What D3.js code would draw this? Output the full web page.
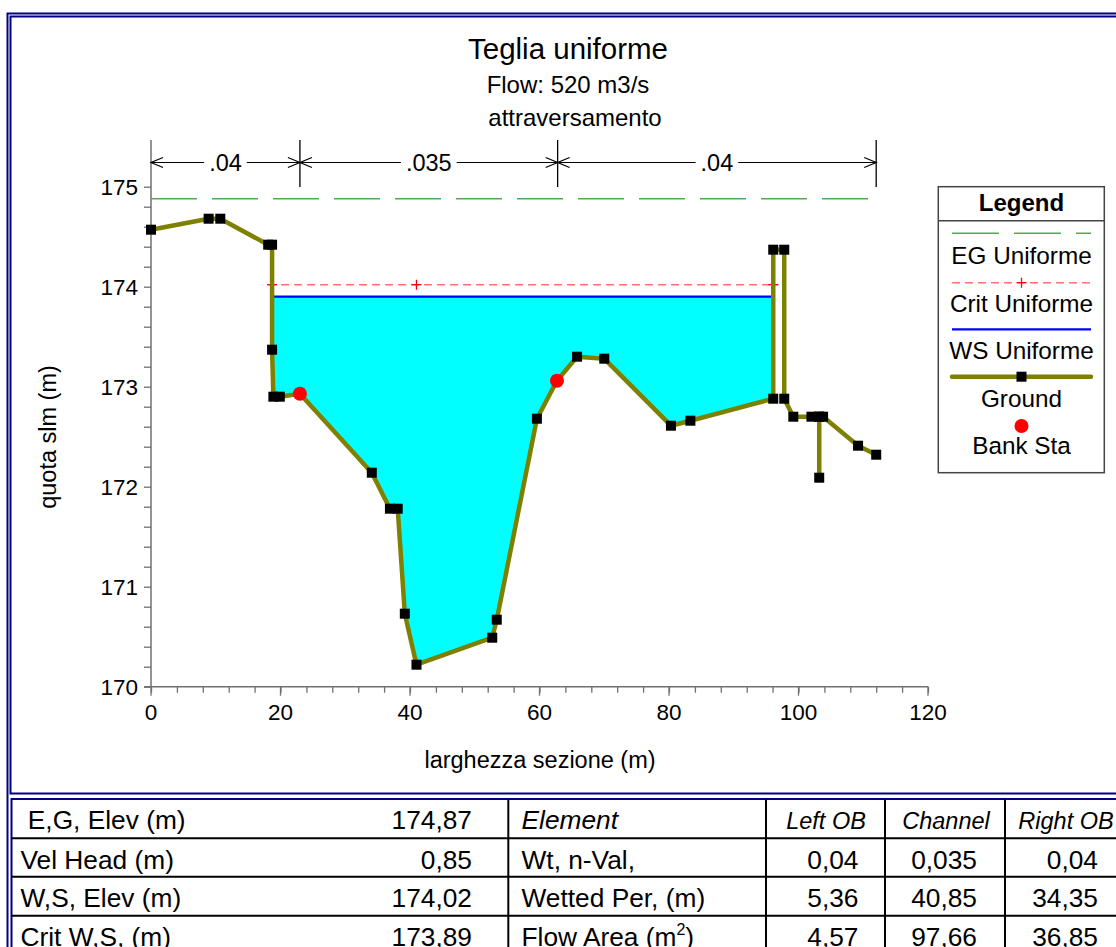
<!DOCTYPE html>
<html lang="it">
<head>
<meta charset="UTF-8">
<title>Teglia uniforme</title>
<script src="https://d3js.org/d3.v7.min.js"></script>
<style>
  body { margin: 0; background: #fff; }
  svg { display: block; font-family: "Liberation Sans", Arial, sans-serif; }
</style>
</head>
<body>
<div id="chart"></div>
<script>
// ground profile (station m, elevation m)
const groundX = [0, 8.9, 10.7, 18.1, 18.7, 18.7, 18.9, 19.9, 23.0, 34.1, 36.9, 38.1, 39.2, 41.0, 52.7, 53.4,
  59.6, 62.7, 65.8, 70.0, 80.3, 83.3, 96.1, 96.1, 97.8, 97.8, 99.2, 102.0, 103.2, 103.2, 103.2, 103.8, 109.2, 112.0];
const groundY = [174.57, 174.68, 174.68, 174.42, 174.42, 173.37, 172.90, 172.90, 172.93, 172.14, 171.78, 171.78,
  170.73, 170.22, 170.49, 170.67, 172.68, 173.06, 173.30, 173.28, 172.61, 172.66, 172.88, 174.37, 174.37, 172.88,
  172.70, 172.70, 172.70, 172.09, 172.70, 172.70, 172.41, 172.32];
const bankX = [23.0, 62.7];
const bankY = [172.93, 173.06];

const egElev = 174.88;
const critElev = 174.02;
const wsElev = 173.90;
const critMarkX = [18.7, 41.0, 96.1];

const nBreaks = [0, 23.0, 62.8, 112.0];
const nLabels = [".04", ".035", ".04"];

const xTicks = [0, 20, 40, 60, 80, 100, 120];
const yTicks = [170, 171, 172, 173, 174, 175];

const legendNames = ["EG Uniforme", "Crit Uniforme", "WS Uniforme", "Ground", "Bank Sta"];

// table
const leftLabels = [" E,G, Elev (m)", "Vel Head (m)", "W,S, Elev (m)", "Crit W,S, (m)"];
const leftValues = ["174,87", "0,85", "174,02", "173,89"];
const elemLabels = ["Element", "Wt, n-Val,", "Wetted Per, (m)", "Flow Area (m"];
const colHeads = ["Left OB", "Channel", "Right OB"];
const leftOB = ["0,04", "5,36", "4,57"];
const channel = ["0,035", "40,85", "97,66"];
const rightOB = ["0,04", "34,35", "36,85"];

const W = 1116, H = 947;
const svg = d3.select("#chart").append("svg").attr("width", W).attr("height", H);
svg.append("rect").attr("width", W).attr("height", H).attr("fill", "#fff");

const x = d3.scaleLinear().domain([0, 120]).range([151, 928]);
const y = d3.scaleLinear().domain([170, 175]).range([686.7, 186.7]);

const ground = groundX.map((gx, i) => [gx, groundY[i]]);

// frames
const navy = "#000080";
svg.append("path").attr("d", `M7.5,${H + 5}V13.5H${W + 5}`).attr("fill", "none").attr("stroke", navy).attr("stroke-width", 2);
svg.append("path").attr("d", `M${W + 5},16.5H10.5V793.5H${W + 5}`).attr("fill", "none").attr("stroke", navy).attr("stroke-width", 2);
svg.append("path").attr("d", `M${W + 5},799H11.5V${H + 5}`).attr("fill", "none").attr("stroke", navy).attr("stroke-width", 2);

// titles
svg.append("text").attr("x", 568).attr("y", 59).attr("text-anchor", "middle").attr("font-size", 29.5).text("Teglia uniforme");
svg.append("text").attr("x", 568).attr("y", 93).attr("text-anchor", "middle").attr("font-size", 24).text("Flow: 520 m3/s");
svg.append("text").attr("x", 575).attr("y", 126).attr("text-anchor", "middle").attr("font-size", 24).text("attraversamento");

// water fill: where ground drops below WS
function crossX(a, b, lvl) {
  return a[0] + (b[0] - a[0]) * (lvl - a[1]) / (b[1] - a[1]);
}
let poly = [];
for (let i = 1; i < ground.length; i++) {
  const a = ground[i - 1], b = ground[i];
  if (a[1] >= wsElev && b[1] < wsElev && poly.length === 0) {
    poly.push([crossX(a, b, wsElev), wsElev]);
    poly.push(b);
  } else if (poly.length > 0 && b[1] < wsElev) {
    poly.push(b);
  } else if (poly.length > 0 && b[1] >= wsElev) {
    poly.push([crossX(a, b, wsElev), wsElev]);
    break;
  }
}
const wsLeft = poly[0][0], wsRight = poly[poly.length - 1][0];
svg.append("path")
  .attr("d", d3.line().x(d => x(d[0])).y(d => y(d[1]))(poly) + "Z")
  .attr("fill", "#00ffff");

// axes
const gray = "#707070";
const yAxis = svg.append("g").attr("transform", `translate(${x(0)},0)`)
  .call(d3.axisLeft(y).tickValues(d3.range(170, 175.01, 0.2)).tickSize(7).tickFormat(""));
yAxis.select(".domain").remove();
yAxis.selectAll("line").attr("stroke", gray).attr("stroke-width", 1.3);
svg.append("line").attr("x1", x(0)).attr("x2", x(0)).attr("y1", 140).attr("y2", y(170))
  .attr("stroke", gray).attr("stroke-width", 1.5);
svg.selectAll(".ylab").data(yTicks).enter().append("text")
  .attr("x", 138).attr("y", d => y(d) + 8).attr("text-anchor", "end").attr("font-size", 22.5).text(d => d);

const xAxis = svg.append("g").attr("transform", `translate(0,${y(170)})`)
  .call(d3.axisBottom(x).tickValues(d3.range(0, 120.1, 4)).tickSize(6).tickFormat(""));
xAxis.select(".domain").remove();
xAxis.selectAll("line").attr("stroke", gray).attr("stroke-width", 1.3);
svg.selectAll(".xmaj").data(xTicks).enter().append("line")
  .attr("x1", d => x(d)).attr("x2", d => x(d)).attr("y1", y(170)).attr("y2", y(170) + 9)
  .attr("stroke", gray).attr("stroke-width", 1.3);
svg.append("line").attr("x1", x(0) - 7).attr("x2", x(120)).attr("y1", y(170)).attr("y2", y(170))
  .attr("stroke", gray).attr("stroke-width", 1.5);
svg.selectAll(".xlab").data(xTicks).enter().append("text")
  .attr("x", d => x(d)).attr("y", 720).attr("text-anchor", "middle").attr("font-size", 22.5).text(d => d);

svg.append("text").attr("x", 540).attr("y", 768).attr("text-anchor", "middle").attr("font-size", 23.5)
  .text("larghezza sezione (m)");
svg.append("text").attr("transform", "translate(56,437) rotate(-90)").attr("text-anchor", "middle")
  .attr("font-size", 23.5).text("quota slm (m)");

// n-value dimension bar
const nY = 162.5;
nBreaks.forEach((b, i) => {
  if (i > 0) svg.append("line").attr("x1", x(b)).attr("x2", x(b)).attr("y1", 140).attr("y2", 187)
    .attr("stroke", "#000").attr("stroke-width", 1.3);
});
function arrow(tipX, dir) {
  svg.append("path")
    .attr("d", `M${tipX - dir * 12},${nY - 5}L${tipX},${nY}L${tipX - dir * 12},${nY + 5}`)
    .attr("fill", "none").attr("stroke", "#000").attr("stroke-width", 1.2);
}
nLabels.forEach((lab, i) => {
  const x0 = x(nBreaks[i]), x1 = x(nBreaks[i + 1]), xm = (x0 + x1) / 2;
  const t = svg.append("text").attr("x", xm).attr("y", nY + 8.5).attr("text-anchor", "middle")
    .attr("font-size", 23.5).text(lab);
  const w = t.node().getComputedTextLength();
  svg.append("line").attr("x1", x0).attr("x2", xm - w / 2 - 5).attr("y1", nY).attr("y2", nY)
    .attr("stroke", "#000").attr("stroke-width", 1.2);
  svg.append("line").attr("x1", xm + w / 2 + 5).attr("x2", x1).attr("y1", nY).attr("y2", nY)
    .attr("stroke", "#000").attr("stroke-width", 1.2);
  arrow(x0, -1);
  arrow(x1, 1);
});

// EG line
svg.append("line").attr("x1", x(groundX[0])).attr("x2", x(groundX[groundX.length - 1]))
  .attr("y1", y(egElev)).attr("y2", y(egElev))
  .attr("stroke", "#4cae4c").attr("stroke-width", 1.6).attr("stroke-dasharray", "46,15");

// crit line
svg.append("line").attr("x1", x(wsLeft) - 4).attr("x2", x(wsRight) + 5)
  .attr("y1", y(critElev)).attr("y2", y(critElev))
  .attr("stroke", "#ff7070").attr("stroke-width", 1.4).attr("stroke-dasharray", "8,5");
function cross(g, cx, cy) {
  g.append("path").attr("d", `M${cx - 5},${cy}H${cx + 5}M${cx},${cy - 5}V${cy + 5}`)
    .attr("stroke", "#ff0000").attr("stroke-width", 1.3);
}
critMarkX.forEach(cx => cross(svg, x(cx), y(critElev)));

// WS line
svg.append("line").attr("x1", x(wsLeft)).attr("x2", x(wsRight)).attr("y1", y(wsElev)).attr("y2", y(wsElev))
  .attr("stroke", "#0000ff").attr("stroke-width", 2.2);

// ground
svg.append("path").attr("d", d3.line().x(d => x(d[0])).y(d => y(d[1]))(ground))
  .attr("fill", "none").attr("stroke", "#808000").attr("stroke-width", 4.5).attr("stroke-linejoin", "round");
svg.selectAll(".gpt").data(ground).enter().append("rect")
  .attr("x", d => x(d[0]) - 5).attr("y", d => y(d[1]) - 5).attr("width", 10).attr("height", 10).attr("fill", "#000");
svg.selectAll(".bank").data(bankX).enter().append("circle")
  .attr("cx", d => x(d)).attr("cy", (d, i) => y(bankY[i])).attr("r", 7).attr("fill", "#ff0000");

// legend
const lg = svg.append("g");
lg.append("rect").attr("x", 938.3).attr("y", 186.7).attr("width", 166).attr("height", 286)
  .attr("fill", "#fff").attr("stroke", "#444").attr("stroke-width", 1.5);
lg.append("line").attr("x1", 938.3).attr("x2", 1104.3).attr("y1", 220.7).attr("y2", 220.7)
  .attr("stroke", "#444").attr("stroke-width", 1.5);
lg.append("text").attr("x", 1021.5).attr("y", 210.5).attr("text-anchor", "middle").attr("font-size", 24)
  .attr("font-weight", "bold").text("Legend");
const lx0 = 952, lx1 = 1091, lxm = (lx0 + lx1) / 2;
lg.append("line").attr("x1", lx0).attr("x2", lx1).attr("y1", 233.3).attr("y2", 233.3)
  .attr("stroke", "#4cae4c").attr("stroke-width", 1.6).attr("stroke-dasharray", "47,15");
lg.append("line").attr("x1", lx0).attr("x2", lx1).attr("y1", 282.7).attr("y2", 282.7)
  .attr("stroke", "#ff7070").attr("stroke-width", 1.4).attr("stroke-dasharray", "8,5");
cross(lg, lxm, 282.7);
lg.append("line").attr("x1", lx0).attr("x2", lx1).attr("y1", 329.3).attr("y2", 329.3)
  .attr("stroke", "#0000ff").attr("stroke-width", 2.2);
lg.append("line").attr("x1", lx0).attr("x2", lx1).attr("y1", 376.7).attr("y2", 376.7)
  .attr("stroke", "#808000").attr("stroke-width", 4.5).attr("stroke-linecap", "round");
lg.append("rect").attr("x", lxm - 5).attr("y", 371.7).attr("width", 10).attr("height", 10).attr("fill", "#000");
lg.append("circle").attr("cx", lxm).attr("cy", 426).attr("r", 7).attr("fill", "#ff0000");
lg.selectAll(".lt").data(legendNames).enter().append("text")
  .attr("x", lxm).attr("y", (d, i) => 264 + i * 47.5).attr("text-anchor", "middle").attr("font-size", 24.3).text(d => d);

// table
const rowTop = [799, 838.3, 876.7, 915.7];
const colX = [508.3, 766, 885, 1005];
rowTop.slice(1).forEach(ry => svg.append("line").attr("x1", 11.5).attr("x2", W).attr("y1", ry).attr("y2", ry)
  .attr("stroke", "#000").attr("stroke-width", 2));
colX.forEach(cx => svg.append("line").attr("x1", cx).attr("x2", cx).attr("y1", 799).attr("y2", H)
  .attr("stroke", "#000").attr("stroke-width", 2));
const tb = svg.append("g").attr("font-size", 26.3);
rowTop.forEach((ry, i) => {
  const by = ry + 30.3;
  tb.append("text").attr("x", 20.5).attr("y", by).attr("xml:space", "preserve").text(leftLabels[i]);
  tb.append("text").attr("x", 472).attr("y", by).attr("text-anchor", "end").text(leftValues[i]);
  const et = tb.append("text").attr("x", 521.5).attr("y", by).text(elemLabels[i]);
  if (i === 0) et.attr("font-style", "italic");
  if (i === 3) {
    et.append("tspan").attr("font-size", 16).attr("dy", -11).text("2");
    et.append("tspan").attr("dy", 11).text(")");
  }
  if (i === 0) {
    [826, 946, 1066].forEach((cx, j) => tb.append("text").attr("x", cx).attr("y", by)
      .attr("text-anchor", "middle").attr("font-style", "italic").attr("font-size", 23.5).text(colHeads[j]));
  } else {
    tb.append("text").attr("x", 858.5).attr("y", by).attr("text-anchor", "end").text(leftOB[i - 1]);
    tb.append("text").attr("x", 977).attr("y", by).attr("text-anchor", "end").text(channel[i - 1]);
    tb.append("text").attr("x", 1098).attr("y", by).attr("text-anchor", "end").text(rightOB[i - 1]);
  }
});
</script>
</body>
</html>
